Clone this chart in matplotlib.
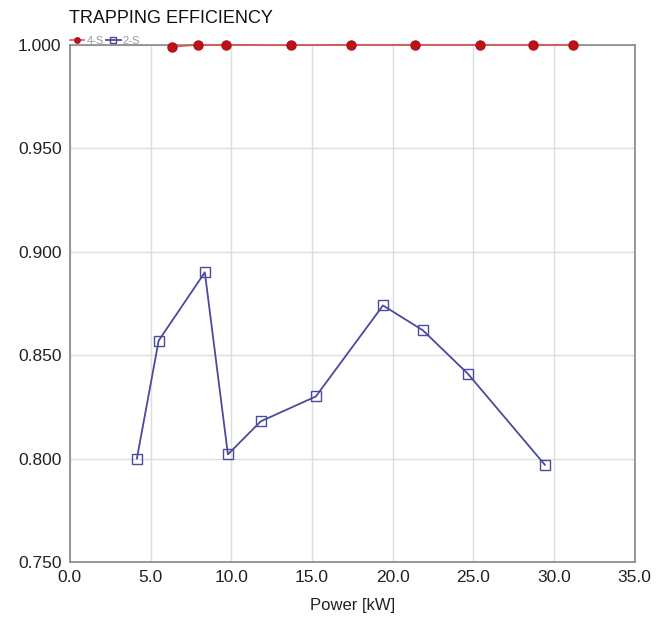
import numpy as np
from matplotlib import pyplot as plt

plt.rcParams['font.family'] = ['Liberation Sans', 'DejaVu Sans']

# 2-S series
power_2s = [4.15, 5.5, 8.36, 9.79, 11.83, 15.24, 19.4, 21.87, 24.66, 29.43]
eff_2s = [0.800, 0.857, 0.890, 0.802, 0.818, 0.830, 0.874, 0.862, 0.841, 0.797]

# 4-S series
power_4s = [6.3, 7.91, 9.7, 13.7, 17.41, 21.4, 25.4, 28.7, 31.2]
eff_4s = [0.999, 1.000, 1.000, 0.9998, 1.000, 1.000, 1.000, 1.000, 1.000]

xticks = np.arange(0, 35.1, 5)
yticks = np.arange(0.75, 1.001, 0.05)

fig = plt.figure(figsize=(6.66, 6.22), dpi=100)
ax = fig.add_axes([0.105, 0.0965, 0.848, 0.8315])

ax.plot(power_4s, eff_4s, color="#dd5555", lw=1.2, marker="o", ms=6.5,
        markerfacecolor="#c0111b", markeredgecolor="#b0101a", label="4-S", clip_on=False, zorder=4)
ax.plot(power_2s, eff_2s, color="#4b4b9c", lw=1.3, marker="s", ms=7,
        markerfacecolor="none", markeredgecolor="#4b4b9c", label="2-S", zorder=3)

ax.set_xlim(0, 35)
ax.set_ylim(0.75, 1.0)
ax.set_xticks(xticks)
ax.set_yticks(yticks)
ax.set_xticklabels([f"{v:.1f}" for v in xticks])
ax.set_yticklabels([f"{v:.3f}" for v in yticks])
ax.tick_params(length=0, labelsize=12.5, colors="#222222", pad=6)
ax.grid(color="#dddddd", lw=1)
ax.set_axisbelow(True)
for s in ax.spines.values():
    s.set_color("#888888")
    s.set_linewidth(1.2)

ax.set_xlabel("Power [kW]", fontsize=12, color="#222222", labelpad=9)
fig.text(0.103, 0.963, "TRAPPING EFFICIENCY", fontsize=13, color="#111111")

leg = ax.legend(loc="lower left", bbox_to_anchor=(0.0, 0.997), ncol=2, frameon=False,
                fontsize=8, handlelength=1.3, handletextpad=0.2, columnspacing=0.2,
                markerscale=0.6, borderpad=0, borderaxespad=0)
for t in leg.get_texts():
    t.set_color("#999999")

fig.savefig("out.png", dpi=100)
